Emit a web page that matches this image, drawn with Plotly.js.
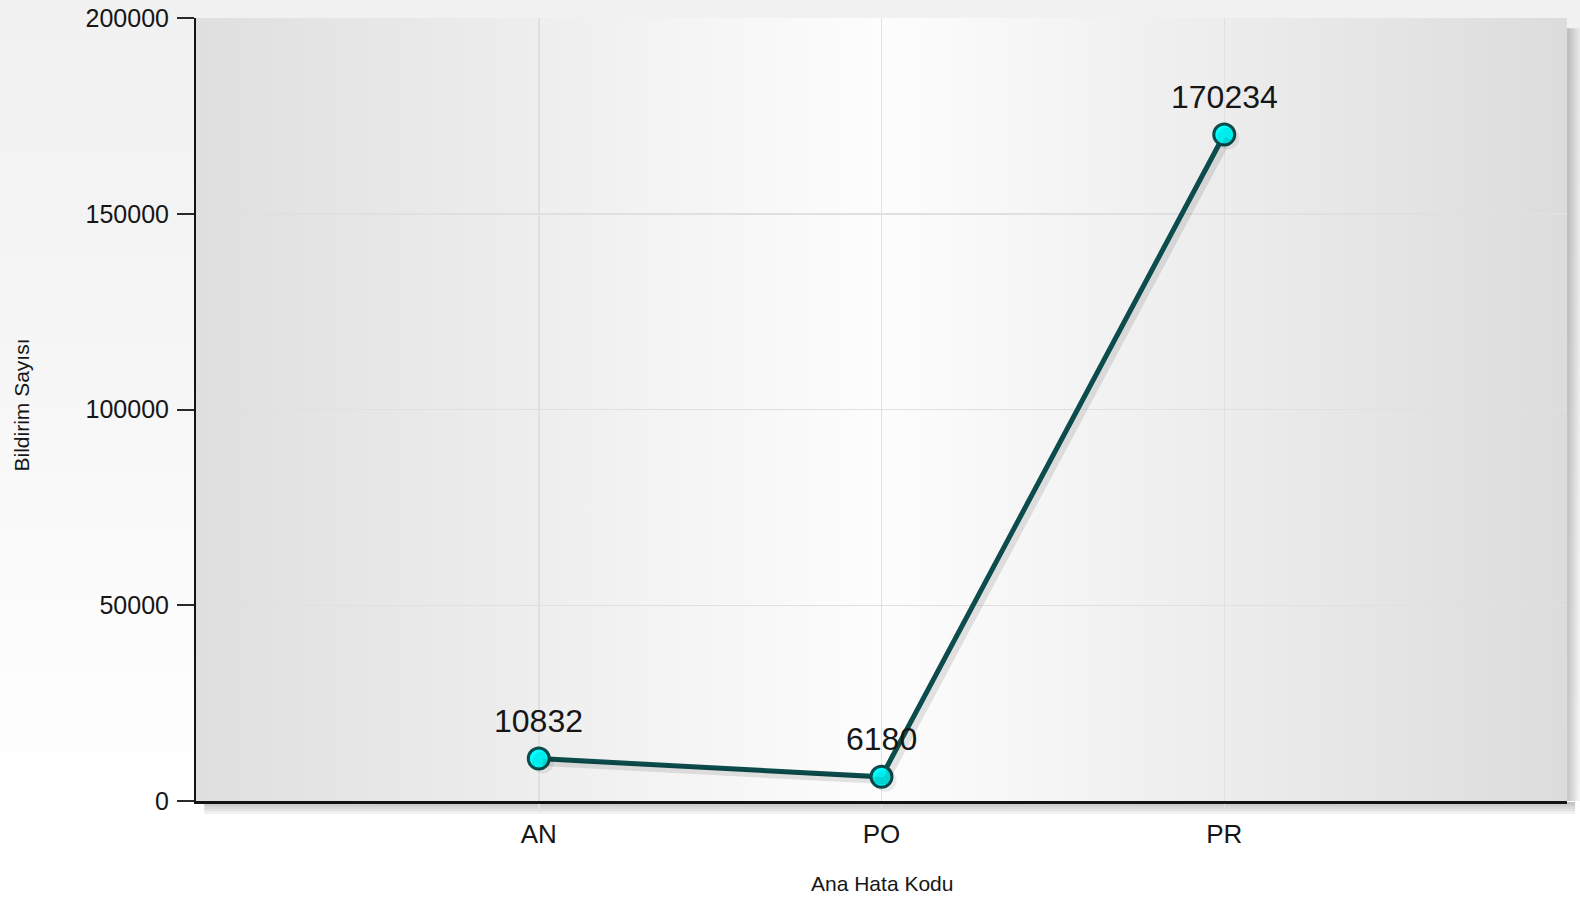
<!DOCTYPE html>
<html>
<head>
<meta charset="utf-8">
<script src="https://cdn.plot.ly/plotly-3.0.1.min.js"></script>
<style>
  html, body { margin: 0; padding: 0; }
  body { width: 1580px; height: 902px; overflow: hidden; }
  #chart {
    width: 1580px; height: 902px;
    background: linear-gradient(to bottom, #f1f1f1 0%, #f5f5f5 35%, #fbfbfb 65%, #ffffff 90%);
  }
</style>
</head>
<body>
<div id="chart"></div>
<script>
// Notification counts per main error code
const categories = ['AN', 'PO', 'PR'];
const counts = [10832, 6180, 170234];
const yTicks = [0, 50000, 100000, 150000, 200000];

const xTitle = 'Ana Hata Kodu';
const yTitle = 'Bildirim Sayısı';

const lineColor = '#0c4c4c';
const textColor = '#161616';
const fontFamily = '"Liberation Sans", Arial, sans-serif';

// Plot-area fill: grey at the left/right edges, fading to near-white in the middle
const bgSvg =
  '<svg xmlns="http://www.w3.org/2000/svg" width="100" height="100" preserveAspectRatio="none">' +
  '<defs><linearGradient id="g" x1="0" y1="0" x2="1" y2="0">' +
  '<stop offset="0" stop-color="#dfdfdf"/>' +
  '<stop offset="0.5" stop-color="#fdfdfd"/>' +
  '<stop offset="1" stop-color="#dcdcdc"/>' +
  '</linearGradient></defs>' +
  '<rect width="100" height="100" fill="url(#g)"/></svg>';
const bgUri = 'data:image/svg+xml;charset=utf-8,' + encodeURIComponent(bgSvg);

// Soft drop shadow along the bottom and right edges of the plot area
const shadowShapes = [];
for (let i = 0; i < 5; i++) {
  const d = 3 + i * 2.5;
  shadowShapes.push({
    type: 'rect', layer: 'below',
    xref: 'paper', yref: 'paper',
    x0: 0.006, x1: 1.0 + 0.006,
    ysizemode: 'pixel', yanchor: 0, y0: -1, y1: -d,
    fillcolor: 'rgba(0,0,0,0.05)', line: { width: 0 }
  });
  shadowShapes.push({
    type: 'rect', layer: 'below',
    xref: 'paper', yref: 'paper',
    xsizemode: 'pixel', xanchor: 1, x0: 0, x1: d,
    y0: -0.0, y1: 0.987,
    fillcolor: 'rgba(0,0,0,0.045)', line: { width: 0 }
  });
}

// Value labels above each point
const labels = categories.map((c, i) => ({
  x: c, y: counts[i], xref: 'x', yref: 'y',
  text: String(counts[i]), showarrow: false,
  yanchor: 'bottom', yshift: 18,
  font: { family: fontFamily, size: 32, color: textColor }
}));

// Axis titles
const titles = [
  {
    text: xTitle, showarrow: false,
    xref: 'paper', yref: 'paper', x: 0.5, y: 0,
    xanchor: 'center', yanchor: 'middle', yshift: -82,
    font: { family: fontFamily, size: 21, color: textColor }
  },
  {
    text: yTitle, showarrow: false, textangle: -90,
    xref: 'paper', yref: 'paper', x: 0, y: 0.5,
    xanchor: 'center', yanchor: 'middle', xshift: -175, yshift: 4,
    font: { family: fontFamily, size: 21, color: textColor }
  }
];

const traces = [
  // faint shadow of the series, drawn on slightly offset overlay axes
  {
    type: 'scatter', mode: 'lines+markers',
    x: categories, y: counts,
    xaxis: 'x2', yaxis: 'y2',
    line: { color: 'rgba(0,0,0,0.10)', width: 7 },
    marker: { size: 22, color: 'rgba(0,0,0,0.07)', line: { width: 0 } },
    hoverinfo: 'skip', showlegend: false
  },
  {
    type: 'scatter', mode: 'lines+markers',
    x: categories, y: counts,
    line: { color: lineColor, width: 5 },
    marker: { symbol: 'circle', size: 21, color: '#00ffff', line: { color: lineColor, width: 3 } },
    showlegend: false
  }
];

const layout = {
  width: 1580, height: 902,
  margin: { l: 196, r: 13, t: 18, b: 101 },
  paper_bgcolor: 'rgba(0,0,0,0)',
  plot_bgcolor: 'rgba(0,0,0,0)',
  showlegend: false,
  font: { family: fontFamily, color: textColor },
  xaxis: {
    type: 'category',
    categoryorder: 'array', categoryarray: categories,
    range: [-1, 3],
    showline: true, linecolor: '#141414', linewidth: 2.5,
    showgrid: true, gridcolor: '#e0e0e0', gridwidth: 1.5,
    ticks: 'outside', ticklen: 8, tickwidth: 1.5, tickcolor: '#e2e2e2',
    ticklabelstandoff: 0,
    tickfont: { family: fontFamily, size: 26, color: textColor },
    zeroline: false, fixedrange: true
  },
  yaxis: {
    range: [0, 200000],
    tickmode: 'array', tickvals: yTicks, ticktext: yTicks.map(String),
    showline: true, linecolor: '#141414', linewidth: 2,
    showgrid: true, gridcolor: '#e0e0e0', gridwidth: 1.5,
    ticks: 'outside', ticklen: 17, tickwidth: 2, tickcolor: '#2a2a2a',
    ticklabelstandoff: 3,
    tickfont: { family: fontFamily, size: 25, color: textColor },
    zeroline: false, fixedrange: true
  },
  xaxis2: {
    type: 'category', overlaying: 'x',
    categoryorder: 'array', categoryarray: categories,
    range: [-1 - 0.012, 3 - 0.012],
    visible: false, fixedrange: true
  },
  yaxis2: {
    overlaying: 'y', range: [1000, 201000],
    visible: false, fixedrange: true
  },
  images: [{
    source: bgUri, xref: 'paper', yref: 'paper',
    x: 0, y: 1, sizex: 1, sizey: 1,
    xanchor: 'left', yanchor: 'top',
    sizing: 'stretch', layer: 'below'
  }],
  shapes: shadowShapes,
  annotations: labels.concat(titles)
};

Plotly.newPlot('chart', traces, layout, { displayModeBar: false, staticPlot: true });
</script>
</body>
</html>
